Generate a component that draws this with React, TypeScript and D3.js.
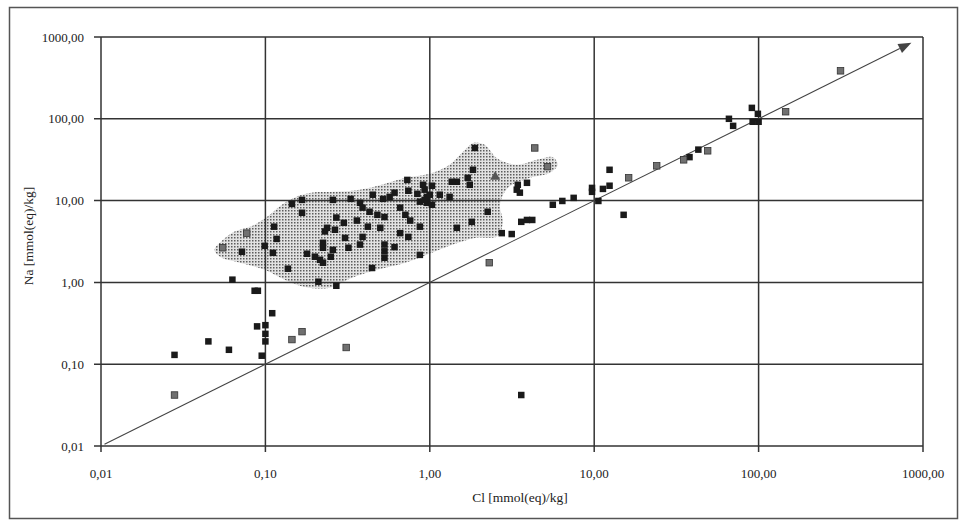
import React from "react";
import * as d3 from "d3";

// ---- data ----
const tickValues = [0.01, 0.1, 1, 10, 100, 1000];
const tickLabels = ["0,01", "0,10", "1,00", "10,00", "100,00", "1000,00"];

const blackCl = [0.063,0.086,0.090,0.11,0.089,0.10,0.10,0.10,0.095,0.045,0.060,0.028,0.21,0.27,3.6,
  0.145,0.167,0.167,0.113,0.117,0.099,0.072,0.111,0.137,0.224,0.224,0.179,0.20,0.215,0.25,0.257,0.265,0.23,
  0.33,0.376,0.45,0.39,0.43,0.48,0.53,0.52,0.57,0.61,0.73,0.74,0.84,0.91,0.96,0.96,0.87,0.66,0.71,0.76,0.87,
  0.27,0.30,0.237,0.36,0.42,0.50,0.305,0.39,0.66,0.74,0.257,0.32,0.376,0.53,0.61,0.53,0.87,0.445,0.224,
  0.93,1.0,1.03,1.03,0.93,1.88,1.83,1.70,1.46,1.36,1.75,3.43,3.38,3.53,3.9,1.15,1.32,5.6,6.4,2.25,1.8,1.46,
  3.6,3.9,4.2,2.74,3.15,7.5,9.7,9.7,10.6,11.3,12.4,12.4,15.1,38,43,66,70,91,99,92,100,0.53];
const blackNa = [1.08,0.79,0.79,0.42,0.29,0.30,0.235,0.19,0.127,0.19,0.15,0.13,1.02,0.91,0.042,
  9.1,10.2,7.1,4.8,3.4,2.8,2.37,2.3,1.47,3.05,2.65,2.24,2.06,1.89,2.06,10.2,4.4,4.2,
  10.5,9.4,11.8,8.2,7.3,6.7,6.3,10.5,11.1,12.5,17.9,13.2,12.1,15.6,11.1,9.4,9.7,8.2,6.7,5.7,4.8,
  6.2,5.35,4.65,5.7,4.8,4.65,3.5,3.6,4.0,3.6,2.5,2.65,2.9,2.9,2.7,2.4,2.17,1.5,1.74,
  13.6,11.8,15.2,8.9,10.2,44,23.8,19,17,17,15.6,15.6,13.6,12.5,16.5,11.8,11.1,8.9,9.9,7.3,5.5,4.65,
  5.5,5.8,5.8,4.0,3.9,10.8,14.3,12.8,9.9,13.9,15.2,23.8,6.7,34,42,100,82,136,115,92,92,2.0];

const greyCl = [0.028,0.145,0.167,0.31,0.077,0.055,4.35,5.2,2.3,16.2,24,35,49,146,315];
const greyNa = [0.042,0.20,0.25,0.16,4.0,2.65,44,26,1.74,19,26.6,31.5,40.6,122,386];

const triCl = [2.5];
const triNa = [19.5];

const envelopeCl = [0.049,0.055,0.065,0.083,0.104,0.126,0.153,0.19,0.265,0.376,0.53,0.71,1.0,1.32,1.59,1.85,2.16,2.56,
  3.38,4.48,5.6,6.0,5.37,4.06,2.98,2.67,2.78,2.59,1.88,1.38,1.03,0.71,0.48,0.336,0.247,0.174,0.131,0.099,0.070,0.053];
const envelopeNa = [2.5,3.3,4.2,4.9,6.5,8.9,11.1,12.5,12.8,13.6,16,19,21.3,27.4,39.5,51,48,33,
  27.4,31.5,34,27.4,21.9,19,14.3,8.9,5.5,3.7,3.5,2.9,2.3,1.74,1.43,1.14,0.86,0.88,1.08,1.43,1.74,2.06];

const identityLine = [0.0105, 850];

const xTitle = "Cl [mmol(eq)/kg]";
const yTitle = "Na [mmol(eq)/kg]";

// ---- layout ----
const W = 965, H = 522;
const L = 101, R = 923, T = 37, B = 446;
const FONT = "'Liberation Serif', 'Times New Roman', serif";

export default function App() {
  const x = d3.scaleLog().domain([0.01, 1000]).range([L, R]);
  const y = d3.scaleLog().domain([0.01, 1000]).range([B, T]);

  const envPts: [number, number][] = envelopeCl.map((c, i) => [x(c), y(envelopeNa[i])]);
  const envPath = d3.line().curve(d3.curveCatmullRomClosed.alpha(0.5))(envPts) || "";

  const x1 = x(identityLine[0]), y1 = y(identityLine[0]);
  const x2 = x(identityLine[1]), y2 = y(identityLine[1]);
  const ang = Math.atan2(y2 - y1, x2 - x1);
  const aL = 13, aW = 5;
  const bx = x2 - aL * Math.cos(ang), by = y2 - aL * Math.sin(ang);
  const arrow = `M${x2},${y2} L${bx + aW * Math.sin(ang)},${by - aW * Math.cos(ang)} L${bx - aW * Math.sin(ang)},${by + aW * Math.cos(ang)} Z`;

  const sq = 6.5;
  const tri = d3.symbol().type(d3.symbolTriangle).size(44)() || "";

  return (
    <svg width={W} height={H} style={{ position: "absolute", left: 0, top: 0, background: "#fff" }}>
      <defs>
        <pattern id="stipple" width="3" height="3" patternUnits="userSpaceOnUse">
          <rect x="0" y="0" width="3" height="3" fill="#e2e2e2" />
          <rect x="0" y="0" width="1.5" height="1.5" fill="#5c5c5c" />
        </pattern>
      </defs>
      <rect x={9.5} y={7.5} width={948} height={511} fill="#fff" stroke="#555" strokeWidth={1.5} />

      {/* shaded envelope */}
      <path d={envPath} fill="url(#stipple)" stroke="none" />

      {/* grid */}
      {tickValues.map((v, i) => (
        <g key={"g" + i}>
          <line x1={x(v)} x2={x(v)} y1={T} y2={B + 6} stroke="#333" strokeWidth={1.5} />
          <line x1={L - 7} x2={R} y1={y(v)} y2={y(v)} stroke="#333" strokeWidth={1.5} />
        </g>
      ))}

      {/* 1:1 line */}
      <line x1={x1} y1={y1} x2={bx} y2={by} stroke="#444" strokeWidth={1.1} />
      <path d={arrow} fill="#444" />

      {/* points */}
      {blackCl.map((c, i) => (
        <rect key={"b" + i} x={x(c) - sq / 2} y={y(blackNa[i]) - sq / 2} width={sq} height={sq} fill="#1a1a1a" />
      ))}
      {greyCl.map((c, i) => (
        <rect key={"r" + i} x={x(c) - sq / 2} y={y(greyNa[i]) - sq / 2} width={sq} height={sq} fill="#707070" stroke="#333" strokeWidth={0.8} />
      ))}
      {triCl.map((c, i) => (
        <path key={"t" + i} d={tri} transform={`translate(${x(c)},${y(triNa[i])})`} fill="#555" />
      ))}

      {/* tick labels */}
      {tickValues.map((v, i) => (
        <text key={"yl" + i} x={84} y={y(v)} dy="0.35em" textAnchor="end" fontFamily={FONT} fontSize={13} fill="#222">
          {tickLabels[i]}
        </text>
      ))}
      {tickValues.map((v, i) => (
        <text key={"xl" + i} x={x(v)} y={473} dy="0.35em" textAnchor="middle" fontFamily={FONT} fontSize={13} fill="#222">
          {tickLabels[i]}
        </text>
      ))}

      {/* axis titles */}
      <text x={520} y={497} dy="0.35em" textAnchor="middle" fontFamily={FONT} fontSize={13.5} fill="#222">
        {xTitle}
      </text>
      <text transform={`translate(28,236) rotate(-90)`} textAnchor="middle" dy="0.35em" fontFamily={FONT} fontSize={13.5} fill="#222">
        {yTitle}
      </text>
    </svg>
  );
}
